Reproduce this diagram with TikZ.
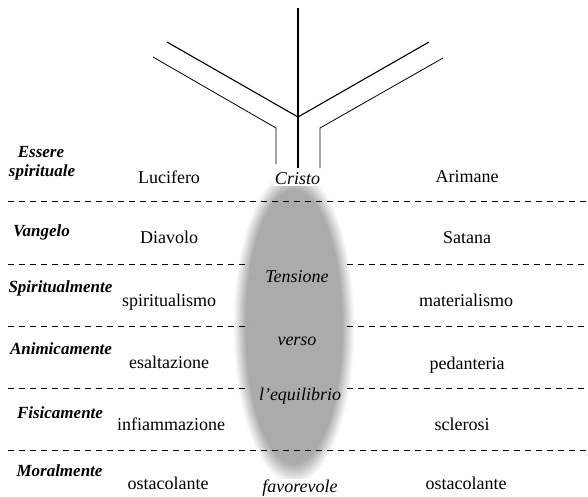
\documentclass[tikz,border=0pt]{standalone}
\usepackage{fontspec}
\setmainfont{Liberation Serif}
\begin{document}
\begin{tikzpicture}[x=1pt,y=-1pt,
  dl/.style={dash pattern=on 6pt off 5pt, line width=0.8pt},
  inner/.style={line width=1.1pt},
  outer/.style={line width=0.8pt},
  lab/.style={anchor=base, inner sep=0pt, font=\fontsize{17}{19}\selectfont\bfseries\itshape},
  val/.style={anchor=base, inner sep=0pt, font=\fontsize{18}{20}\selectfont},
  mid/.style={anchor=base, inner sep=0pt, font=\fontsize{18}{20}\selectfont\itshape},
  midw/.style={mid, fill=white, inner sep=1.5pt}]
\useasboundingbox (0,0) rectangle (588,496);
% shaded ellipse (built up as stacked ellipses)
\coordinate (ec) at (294,327);
\foreach \i in {0,...,18} {
  \pgfmathsetmacro{\rx}{61-0.8*\i}
  \pgfmathsetmacro{\ry}{158-1.3*\i}
  \pgfmathsetmacro{\gv}{min(33,2.1*\i)}
  \fill[black!\gv] (ec) ellipse [x radius=\rx, y radius=\ry];
}
% dashed rows
\coordinate (a1) at (8,201);   \coordinate (b1) at (588,201);
\coordinate (a2) at (8,264);   \coordinate (c2) at (250,264); \coordinate (d2) at (347,264); \coordinate (b2) at (588,264);
\coordinate (a3) at (8,326);   \coordinate (c3) at (250,326); \coordinate (d3) at (347,326); \coordinate (b3) at (588,326);
\coordinate (a4) at (8,388);   \coordinate (c4) at (250,388); \coordinate (d4) at (347,388); \coordinate (b4) at (588,388);
\coordinate (a5) at (8,450);   \coordinate (b5) at (588,450);
\draw[dl] (a1) -- (b1);
\draw[dl] (a2) -- (c2); \draw[dl] (d2) -- (b2);
\draw[dl] (a3) -- (c3); \draw[dl] (d3) -- (b3);
\draw[dl] (a4) -- (c4); \draw[dl] (d4) -- (b4);
\draw[dl] (a5) -- (b5);
% tree
\coordinate (top) at (298,8);
\coordinate (j) at (298,117);
\coordinate (li) at (167,42);
\coordinate (ri) at (429,42);
\coordinate (lo) at (153,57);
\coordinate (lb) at (276,128);
\coordinate (lbe) at (276,164);
\coordinate (ro) at (443,58);
\coordinate (rb) at (320,128);
\coordinate (rbe) at (320,168);
\coordinate (je) at (298,168);
\draw[inner] (top) -- (je);
\draw[inner] (li) -- (j) -- (ri);
\draw[outer] (lo) -- (lb) -- (lbe);
\draw[outer] (ro) -- (rb) -- (rbe);
% left labels
\node[lab] (l1a) at (41,157.5) {Essere};
\node[lab] (l1b) at (42,176.5) {spirituale};
\node[lab] (l2) at (41.5,236) {Vangelo};
\node[lab] (l3) at (60.5,292.3) {Spiritualmente};
\node[lab] (l4) at (61,354.3) {Animicamente};
\node[lab] (l5) at (60,418.3) {Fisicamente};
\node[lab] (l6) at (59.5,476.7) {Moralmente};
% left values
\node[val] (v1) at (169,183.3) {Lucifero};
\node[val] (v2) at (169,243.3) {Diavolo};
\node[val] (v3) at (169,306.7) {spiritualismo};
\node[val] (v4) at (169,368.3) {esaltazione};
\node[val] (v5) at (171,430) {infiammazione};
\node[val] (v6) at (168,489.3) {ostacolante};
% right values
\node[val] (r1) at (467,182.3) {Arimane};
\node[val] (r2) at (467,243.3) {Satana};
\node[val] (r3) at (466,306.7) {materialismo};
\node[val] (r4) at (467,369.3) {pedanteria};
\node[val] (r5) at (462,430.7) {sclerosi};
\node[val] (r6) at (466,489.3) {ostacolante};
% center
\node[midw] (m0) at (297.5,184.3) {Cristo};
\node[mid] (m1) at (297,282.7) {Tensione};
\node[mid] (m2) at (297,345.7) {verso};
\node[mid] (m3) at (300,400.7) {l’equilibrio};
\node[midw] (m4) at (300,492.7) {favorevole};
\end{tikzpicture}
\end{document}
